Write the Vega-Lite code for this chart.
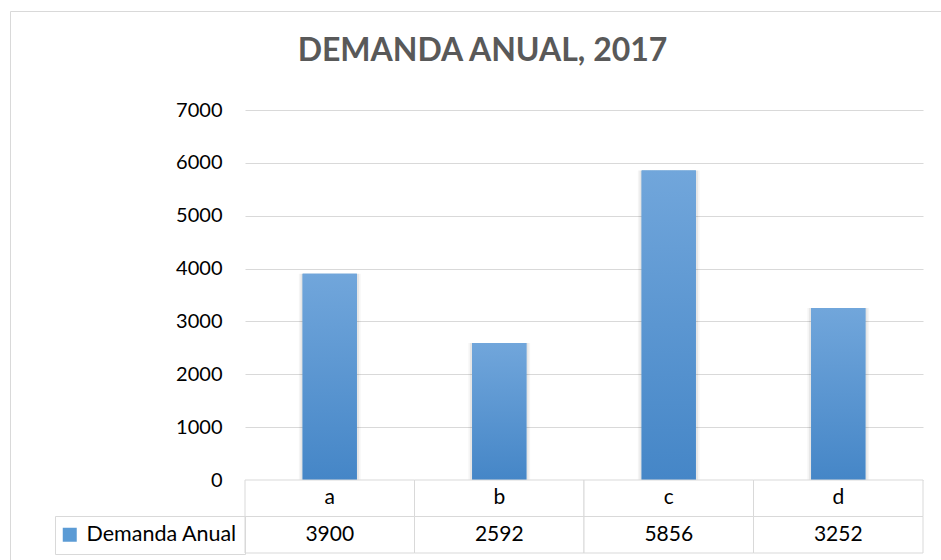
{
  "$schema": "https://vega.github.io/schema/vega-lite/v6.json",
  "width": 931,
  "height": 549,
  "autosize": {"type": "none"},
  "padding": {"left": 10, "top": 11, "right": 0, "bottom": 0},
  "background": "white",
  "config": {"view": {"stroke": "#d9d9d9", "strokeWidth": 1}, "font": "Lato"},
  "title": {
    "text": "DEMANDA ANUAL, 2017",
    "font": "Lato",
    "fontSize": 32,
    "fontWeight": "bold",
    "color": "#595959",
    "anchor": "middle",
    "frame": "group",
    "baseline": "alphabetic",
    "offset": -82,
    "dx": 7
  },
  "data": {
    "values": [
      {"cat": "a", "value": 3900},
      {"cat": "b", "value": 2592},
      {"cat": "c", "value": 5856},
      {"cat": "d", "value": 3252}
    ]
  },
  "layer": [
    {
      "encoding": {
        "x": {"field": "cat", "type": "nominal", "axis": null,
              "scale": {"domain": ["a", "b", "c", "d"], "range": [235, 913], "paddingInner": 0, "paddingOuter": 0}},
        "y": {"field": "value", "type": "quantitative",
              "scale": {"domain": [0, 7000], "range": [469, 99], "nice": false, "zero": true},
              "axis": {"values": [0, 1000, 2000, 3000, 4000, 5000, 6000, 7000], "offset": -235,
                       "grid": true, "gridColor": "#d9d9d9", "gridWidth": 1, "domain": false, "ticks": false,
                       "labelPadding": 23, "labelFont": "Lato", "labelFontSize": 20, "labelColor": "#000000",
                       "title": null, "format": "d"}}
      },
      "layer": [
        {"mark": {"type": "bar", "width": {"band": 0.365}, "color": "#000000", "opacity": 0.04}},
        {"mark": {"type": "bar", "width": {"band": 0.345}, "color": "#000000", "opacity": 0.06}},
        {
          "mark": {"type": "bar", "width": {"band": 0.32}},
          "encoding": {
            "color": {"datum": "Demanda Anual", "type": "nominal", "scale": {"range": ["#5b9bd5"]},
                      "legend": {"orient": "none", "legendX": 45, "legendY": 505, "title": null,
                                 "strokeColor": "#d9d9d9", "padding": 8, "symbolType": "square",
                                 "symbolSize": 196, "symbolStrokeWidth": 0, "symbolOffset": -4, "labelFont": "Lato",
                                 "labelFontSize": 21.5, "labelColor": "#000000", "labelOffset": 6, "labelLimit": 300}}
          }
        },
        {"mark": {"type": "bar", "width": {"band": 0.32},
                  "color": {"gradient": "linear", "x1": 0, "y1": 0, "x2": 0, "y2": 1,
                            "stops": [{"offset": 0, "color": "#71a6db"}, {"offset": 1, "color": "#4586c7"}]}}}
      ]
    },
    {
      "encoding": {
        "x": {"field": "cat", "type": "nominal", "axis": null,
              "scale": {"domain": ["a", "b", "c", "d"], "range": [235, 913], "paddingInner": 0, "paddingOuter": 0}}
      },
      "layer": [
        {"mark": {"type": "rect", "fill": "#ffffff", "stroke": "#d9d9d9", "strokeWidth": 1},
         "encoding": {"y": {"datum": "cat", "type": "nominal", "axis": null,
                            "scale": {"type": "band", "domain": ["cat", "val"], "range": [469, 542], "paddingInner": 0, "paddingOuter": 0}}}},
        {"mark": {"type": "rect", "fill": "#ffffff", "stroke": "#d9d9d9", "strokeWidth": 1},
         "encoding": {"y": {"datum": "val", "type": "nominal", "axis": null}}},
        {"mark": {"type": "text", "font": "Lato", "fontSize": 21, "color": "#000000", "baseline": "middle"},
         "encoding": {"y": {"datum": "cat", "type": "nominal", "axis": null}, "text": {"field": "cat"}}},
        {"mark": {"type": "text", "font": "Lato", "fontSize": 21, "color": "#000000", "baseline": "middle"},
         "encoding": {"y": {"datum": "val", "type": "nominal", "axis": null}, "text": {"field": "value", "type": "quantitative", "format": "d"}}}
      ]
    }
  ],
  "resolve": {"scale": {"y": "independent"}, "axis": {"y": "independent"}}
}
